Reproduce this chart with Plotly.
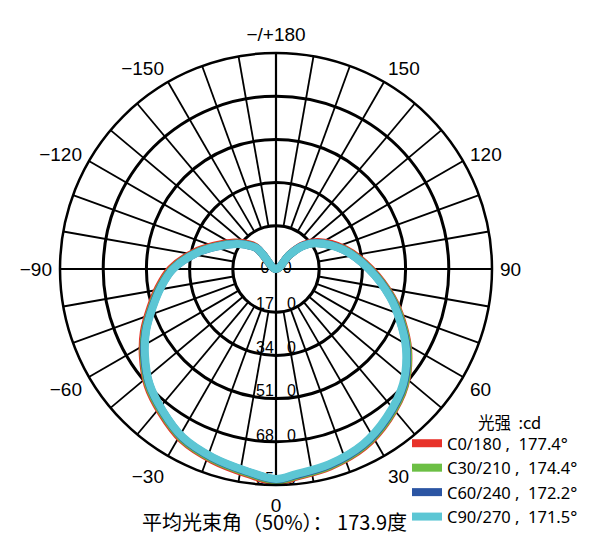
import plotly.graph_objects as go

# ---------------- data ----------------
theta_deg = [-140, -137.8, -137, -128.7, -122.4, -110.6, -101.2, -90, -81.2, -72.9,
             -64.7, -57, -47.8, -38.6, -28.9, -18.5, -8.3, 0, 5.6, 15.3,
             26.4, 36.7, 47.9, 58.5, 67.5, 76.3, 90, 106.1, 122.7, 130.7,
             136.5, 140]

c0_180 = [0, 80, 120, 162, 194, 260, 330, 415, 467, 517,
          575, 625, 682, 724, 767, 792, 813, 836, 821, 806,
          781, 739, 684, 610, 537, 470, 373, 282, 196, 146,
          80, 0]
c30_210 = [0, 77, 115, 155, 187, 254, 324, 409, 462, 512,
           570, 621, 678, 720, 763, 788, 809, 832, 818, 803,
           777, 736, 682, 608, 534, 467, 369, 277, 190, 141,
           77, 0]
c60_240 = [0, 76, 113, 153, 185, 251, 321, 406, 459, 509,
           567, 618, 674, 716, 759, 784, 805, 828, 814, 799,
           773, 731, 677, 603, 529, 463, 366, 275, 189, 140,
           76, 0]
c90_270 = [0, 75, 112, 152, 184, 250, 320, 405, 457, 507,
           565, 615, 672, 714, 757, 782, 803, 826, 811, 796,
           770, 728, 674, 600, 527, 461, 365, 274, 188, 139,
           76, 0]

series_names = ["C0/180\u00a0,\u00a0\u00a0177.4°", "C30/210\u00a0,\u00a0\u00a0174.4°",
                "C60/240\u00a0,\u00a0\u00a0172.2°", "C90/270\u00a0,\u00a0\u00a0171.5°"]
series_values = [c0_180, c30_210, c60_240, c90_270]
series_colors = ["#e8322a", "#6cbf45", "#2b55a3", "#5cc6d4"]

ring_values = [170, 340, 510, 680]
r_max = 850
ring_labels = ["0\u00a0\u00a0\u00a00", "17\u00a0\u00a0\u00a00", "34\u00a0\u00a0\u00a00",
               "51\u00a0\u00a0\u00a00", "68\u00a0\u00a0\u00a00", "85\u00a0\u00a0\u00a00"]
ring_label_r = [0, 142, 313, 485, 663, 830]

angle_tickvals = [0, 30, 60, 90, 120, 150, 180, 210, 240, 270, 300, 330]
angle_ticktext = ["0", "30", "60", "90", "120", "150", "\u2212/+180",
                  "\u2212150", "\u2212120", "\u221290", "\u221260", "\u221230"]

legend_title = "光强\u00a0\u00a0:cd"
footer_text = "平均光束角（50%）： 173.9度"

# ---------------- figure ----------------
fig = go.Figure()

spoke_r, spoke_t = [], []
for a in range(0, 360, 10):
    if a % 90 == 0:
        continue
    spoke_r += [ring_values[0], r_max, None]
    spoke_t += [a, a, None]
fig.add_trace(go.Scatterpolar(r=spoke_r, theta=spoke_t, mode="lines",
                              line=dict(color="black", width=1.8),
                              hoverinfo="skip", showlegend=False))
fig.add_trace(go.Scatterpolar(r=[r_max, 0, r_max, None, r_max, 0, r_max],
                              theta=[0, 0, 180, None, 90, 90, 270],
                              mode="lines", line=dict(color="black", width=2.2),
                              hoverinfo="skip", showlegend=False))
fig.add_trace(go.Scatterpolar(r=ring_label_r, theta=[0] * len(ring_label_r),
                              mode="text", text=ring_labels,
                              textfont=dict(family="Liberation Sans, Arial", size=16, color="black"),
                              hoverinfo="skip", showlegend=False))

for name, vals, col in zip(series_names, series_values, series_colors):
    fig.add_trace(go.Scatterpolar(r=vals, theta=theta_deg, mode="lines", name=name,
                                  line=dict(color=col, width=8, shape="spline")))

W, H = 615, 553
OFF = 8  # page body margin
cx, cy, R = 276 - OFF, 269 - OFF, 216


def px(x):
    return (x - OFF) / W


def py(y):
    return 1 - (y - OFF) / H


fig.update_layout(
    width=W, height=H,
    margin=dict(l=0, r=0, t=0, b=0),
    paper_bgcolor="white", plot_bgcolor="white",
    polar=dict(
        domain=dict(x=[(cx - R) / W, (cx + R) / W], y=[1 - (cy + R) / H, 1 - (cy - R) / H]),
        bgcolor="white",
        radialaxis=dict(range=[0, r_max], tickvals=ring_values, showticklabels=False,
                        showgrid=True, gridcolor="black", gridwidth=2.5,
                        showline=False, ticks=""),
        angularaxis=dict(rotation=-90, direction="counterclockwise",
                         tickvals=angle_tickvals, ticktext=angle_ticktext,
                         showgrid=False, showline=True, linecolor="black", linewidth=2.5,
                         ticks="outside", ticklen=3, tickcolor="rgba(0,0,0,0)",
                         tickfont=dict(family="Liberation Sans, Arial", size=19, color="black")),
    ),
    showlegend=True,
    legend=dict(x=px(407), y=py(426), xanchor="left", yanchor="top",
                bgcolor="rgba(0,0,0,0)", itemwidth=30,
                font=dict(family="Noto Sans", size=16.5, color="black"),
                tracegroupgap=0),
    annotations=[
        dict(text=legend_title, x=px(476), y=py(422), xref="paper", yref="paper",
             xanchor="left", yanchor="middle", showarrow=False,
             font=dict(family="Noto Sans CJK SC", size=16.5, color="black")),
        dict(text=footer_text, x=px(274), y=py(521), xref="paper", yref="paper",
             xanchor="center", yanchor="middle", showarrow=False,
             font=dict(family="Noto Sans CJK SC", size=20, color="black")),
    ],
)

fig.write_html("out.html")
